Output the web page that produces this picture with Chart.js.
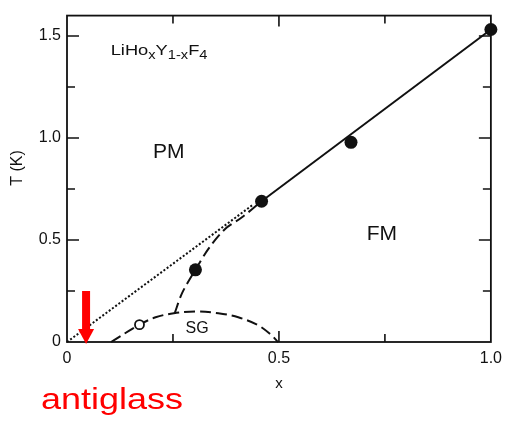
<!DOCTYPE html>
<html>
<head>
<meta charset="utf-8">
<script src="https://cdn.jsdelivr.net/npm/chart.js@4/dist/chart.umd.min.js"></script>
<style>
  html, body { margin: 0; padding: 0; background: #fff; }
  #wrap { width: 509px; height: 421px; }
</style>
</head>
<body>
<div id="wrap"><canvas id="c" width="509" height="421"></canvas></div>
<script>
// LiHo(x)Y(1-x)F4 magnetic phase diagram: ordering temperature vs Ho concentration x

// measured transition temperatures (filled circles)
const measuredX = [0.303, 0.459, 0.670, 1.0];
const measuredT = [0.354, 0.690, 0.979, 1.532];
// spin-glass freezing point (open circle)
const glassX = [0.171];
const glassT = [0.085];
// ferromagnetic phase boundary (solid)
const fmLineX = [0.459, 1.0];
const fmLineT = [0.690, 1.532];
// mean-field extrapolation to the origin (dotted)
const mfExtX = [0, 0.44];
const mfExtT = [0, 0.675];
// PM/FM boundary continuing down to the glass dome (dashed)
const reentrantX = [0.254, 0.272, 0.303, 0.334, 0.373, 0.412, 0.459];
const reentrantT = [0.141, 0.242, 0.354, 0.458, 0.554, 0.610, 0.690];
// spin-glass dome (dashed)
const sgDomeX = [0.104, 0.171, 0.209, 0.252, 0.303, 0.357, 0.404, 0.451, 0.482, 0.498];
const sgDomeT = [0.000, 0.085, 0.121, 0.141, 0.150, 0.141, 0.121, 0.082, 0.034, 0.000];

// axis ticks
const xTickValues = [0, 0.25, 0.5, 0.75, 1.0];
const xTickLabels = ['0', '', '0.5', '', '1.0'];
const yTickValues = [0, 0.25, 0.5, 0.75, 1.0, 1.25, 1.5];
const yTickLabels = ['0', '', '0.5', '', '1.0', '', '1.5'];

// antiglass composition marker
const antiglassX = [0.045];
const antiglassT = [0.25, 0];

const INK = '#111';
const FONT = '"Liberation Sans", Arial, Helvetica, sans-serif';

function pts(xs, ys) { return xs.map((x, i) => ({ x: x, y: ys[i] })); }

// region labels placed in data units
const regionLabels = [
  { text: 'PM', x: 0.240, t: 0.930, size: 21 },
  { text: 'FM', x: 0.743, t: 0.529, size: 21 },
  { text: 'SG', x: 0.307, t: 0.066, size: 16 }
];

const decorations = {
  id: 'decorations',
  afterDatasetsDraw(chart) {
    const ctx = chart.ctx;
    const a = chart.chartArea;
    const xs = chart.scales.x, ys = chart.scales.y;
    ctx.save();

    // frame
    ctx.strokeStyle = INK;
    ctx.lineWidth = 1.8;
    ctx.strokeRect(a.left, a.top, a.right - a.left, a.bottom - a.top);

    // inward tick marks on all four sides
    ctx.lineWidth = 1.6;
    ctx.beginPath();
    xTickValues.forEach((v, i) => {
      if (v === 0 || v === 1) return;
      const px = xs.getPixelForValue(v);
      const len = xTickLabels[i] ? 11 : 8;
      ctx.moveTo(px, a.bottom); ctx.lineTo(px, a.bottom - len);
      ctx.moveTo(px, a.top); ctx.lineTo(px, a.top + len);
    });
    yTickValues.forEach((v, i) => {
      if (v === 0) return;
      const py = ys.getPixelForValue(v);
      const len = yTickLabels[i] ? 12 : 8;
      ctx.moveTo(a.left, py); ctx.lineTo(a.left + len, py);
      ctx.moveTo(a.right, py); ctx.lineTo(a.right - len, py);
    });
    ctx.stroke();

    // region labels
    ctx.fillStyle = INK;
    ctx.textAlign = 'center';
    ctx.textBaseline = 'middle';
    regionLabels.forEach(l => {
      ctx.font = l.size + 'px ' + FONT;
      ctx.fillText(l.text, xs.getPixelForValue(l.x), ys.getPixelForValue(l.t));
    });

    // compound formula with subscripts
    const parts = [
      ['LiHo', 0], ['x', 1], ['Y', 0], ['1-x', 1], ['F', 0], ['4', 1]
    ];
    const cx = xs.getPixelForValue(0.103);
    const base = ys.getPixelForValue(1.408);
    ctx.textAlign = 'left';
    ctx.textBaseline = 'alphabetic';
    ctx.save();
    ctx.translate(cx, base);
    ctx.scale(1.22, 1);
    let off = 0;
    parts.forEach(([s, sub]) => {
      ctx.font = (sub ? 12 : 15) + 'px ' + FONT;
      ctx.fillText(s, off, sub ? 4 : 0);
      off += ctx.measureText(s).width;
    });
    ctx.restore();

    // axis titles
    ctx.font = '15px ' + FONT;
    ctx.textAlign = 'center';
    ctx.textBaseline = 'middle';
    ctx.fillText('x', xs.getPixelForValue(0.5), 384);
    ctx.save();
    ctx.translate(18, 168);
    ctx.rotate(-Math.PI / 2);
    ctx.font = '16px ' + FONT;
    ctx.fillText('T (K)', 0, 0);
    ctx.restore();

    // red arrow pointing at the antiglass composition
    const ax = xs.getPixelForValue(antiglassX[0]);
    const aTop = ys.getPixelForValue(antiglassT[0]);
    const aTip = ys.getPixelForValue(antiglassT[1]) + 2;
    ctx.fillStyle = '#ff0000';
    ctx.fillRect(ax - 4, aTop, 8, aTip - 14 - aTop);
    ctx.beginPath();
    ctx.moveTo(ax - 8, aTip - 15);
    ctx.lineTo(ax + 8, aTip - 15);
    ctx.lineTo(ax, aTip);
    ctx.closePath();
    ctx.fill();

    // caption
    ctx.save();
    ctx.translate(41, 409);
    ctx.scale(1.2, 1);
    ctx.font = '30px ' + FONT;
    ctx.textAlign = 'left';
    ctx.textBaseline = 'alphabetic';
    ctx.fillText('antiglass', 0, 0);
    ctx.restore();

    ctx.restore();
  }
};

new Chart(document.getElementById('c'), {
  type: 'scatter',
  data: {
    datasets: [
      {
        label: 'Tc',
        data: pts(measuredX, measuredT),
        pointRadius: 6.5,
        pointBackgroundColor: INK,
        pointBorderColor: INK,
        pointBorderWidth: 0,
        showLine: false,
        clip: false
      },
      {
        label: 'Tg',
        data: pts(glassX, glassT),
        pointRadius: 4.5,
        pointBackgroundColor: '#fff',
        pointBorderColor: INK,
        pointBorderWidth: 1.8,
        showLine: false,
        clip: false
      },
      {
        label: 'FM boundary',
        data: pts(fmLineX, fmLineT),
        showLine: true,
        borderColor: INK,
        borderWidth: 2,
        pointRadius: 0,
        clip: false
      },
      {
        label: 'mean field',
        data: pts(mfExtX, mfExtT),
        showLine: true,
        borderColor: INK,
        borderWidth: 2,
        borderDash: [2, 2],
        pointRadius: 0,
        clip: false
      },
      {
        label: 'reentrant',
        data: pts(reentrantX, reentrantT),
        showLine: true,
        borderColor: INK,
        borderWidth: 2,
        borderDash: [11, 5],
        tension: 0.3,
        pointRadius: 0,
        clip: false
      },
      {
        label: 'SG dome',
        data: pts(sgDomeX, sgDomeT),
        showLine: true,
        borderColor: INK,
        borderWidth: 2,
        borderDash: [11, 5],
        tension: 0.35,
        pointRadius: 0,
        clip: false
      }
    ]
  },
  options: {
    responsive: false,
    animation: false,
    devicePixelRatio: 1,
    layout: { padding: { top: 9, right: 14, bottom: 0, left: 0 } },
    plugins: { legend: { display: false }, tooltip: { enabled: false } },
    scales: {
      x: {
        type: 'linear',
        min: 0,
        max: 1.0,
        grid: { display: false, drawTicks: false },
        border: { display: false },
        afterBuildTicks: s => { s.ticks = xTickValues.map(v => ({ value: v })); },
        afterFit: s => { s.height = 79; },
        ticks: {
          padding: 7,
          color: INK,
          font: { family: FONT, size: 16 },
          maxRotation: 0,
          autoSkip: false,
          callback: v => { const i = xTickValues.indexOf(v); return i >= 0 ? xTickLabels[i] : ''; }
        }
      },
      y: {
        type: 'linear',
        min: 0,
        max: 1.6,
        grid: { display: false, drawTicks: false },
        border: { display: false },
        afterBuildTicks: s => { s.ticks = yTickValues.map(v => ({ value: v })); },
        afterFit: s => { s.width = 67; },
        ticks: {
          padding: 6,
          color: INK,
          font: { family: FONT, size: 16 },
          autoSkip: false,
          callback: v => { const i = yTickValues.indexOf(v); return i >= 0 ? yTickLabels[i] : ''; }
        }
      }
    }
  },
  plugins: [decorations]
});
</script>
</body>
</html>
